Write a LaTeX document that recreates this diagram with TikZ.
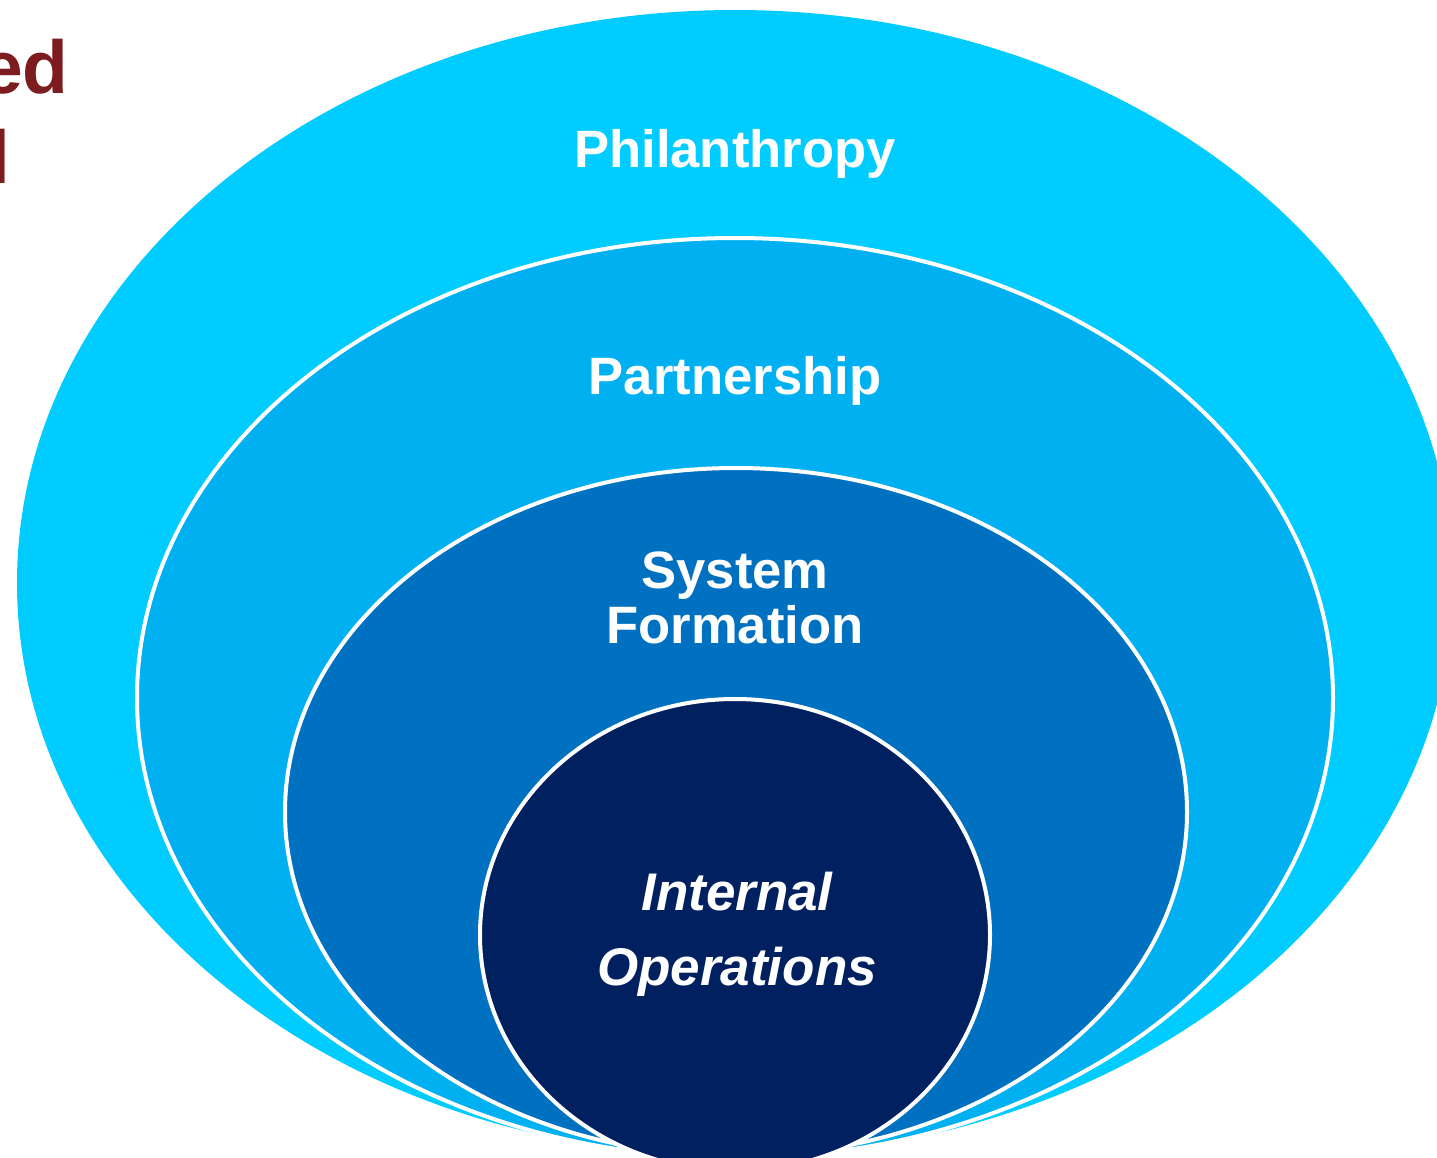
\documentclass[tikz,border=0pt]{standalone}
\usepackage{fontspec}
\setmainfont{Liberation Sans}
\definecolor{ringA}{HTML}{00CCFF}
\definecolor{ringB}{HTML}{00B0F0}
\definecolor{ringC}{HTML}{0070C0}
\definecolor{ringD}{HTML}{002060}
\definecolor{titlered}{RGB}{124,28,30}
\begin{document}
\begin{tikzpicture}[x=1pt,y=-1pt,
  ring/.style={line width=4pt,draw=white},
  lbl/.style={text=white,font=\bfseries\fontsize{52.6}{60}\selectfont,inner sep=0pt,anchor=base},
  lbli/.style={text=white,font=\bfseries\itshape\fontsize{53}{60}\selectfont,inner sep=0pt,anchor=base},
  ttl/.style={text=titlered,font=\bfseries\fontsize{75}{90}\selectfont,inner sep=0pt,anchor=base east}]
\clip (0,0) rectangle (1437,1157);
\fill[white] (0,0) rectangle (1437,1157);
% rings
\fill[ringA] (735,583) ellipse [x radius=718, y radius=573];
\filldraw[ringB,ring] (735,698) ellipse [x radius=598, y radius=460];
\filldraw[ringC,ring] (736,812) ellipse [x radius=451, y radius=344];
\filldraw[ringD,ring] (735,935) ellipse [x radius=255, y radius=236];
% labels
\node[lbl] (phil) at (735,167) {Philanthropy};
\node[lbl] (part) at (735,394) {Partnership};
\node[lbl] (sys1) at (735,588) {System};
\node[lbl] (sys2) at (735,643) {Formation};
\node[lbli] (int1) at (737,910) {Internal};
\node[lbli] (int2) at (737,985) {Operations};
% clipped title fragments
\node[ttl] (t1) at (69,93) {ed};
\node[ttl] (t2) at (11,183) {l};
\end{tikzpicture}
\end{document}
